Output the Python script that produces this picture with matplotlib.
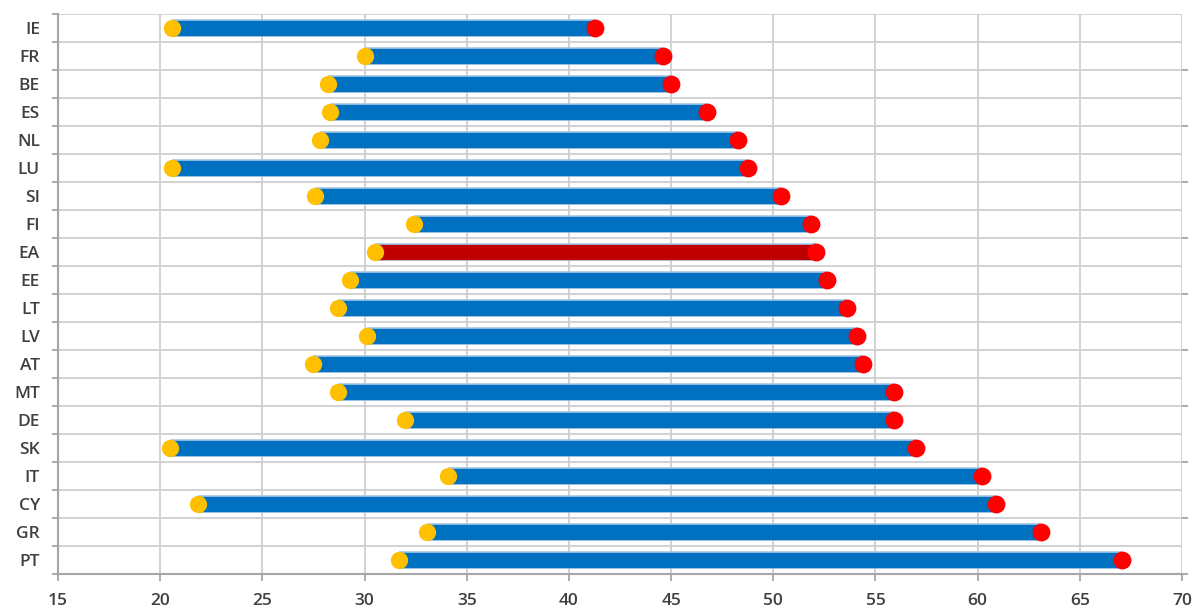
import numpy as np
import matplotlib.pyplot as plt

# Countries, top to bottom
countries = ['IE', 'FR', 'BE', 'ES', 'NL', 'LU', 'SI', 'FI', 'EA', 'EE',
             'LT', 'LV', 'AT', 'MT', 'DE', 'SK', 'IT', 'CY', 'GR', 'PT']
# Left (yellow) and right (red) end points
low = [20.6, 30.0, 28.2, 28.3, 27.8, 20.6, 27.6, 32.4, 30.5, 29.3,
       28.7, 30.1, 27.5, 28.7, 32.0, 20.5, 34.1, 21.85, 33.05, 31.7]
high = [41.3, 44.6, 45.0, 46.75, 48.25, 48.75, 50.4, 51.85, 52.1, 52.65,
        53.6, 54.1, 54.4, 55.9, 55.9, 57.0, 60.2, 60.9, 63.1, 67.05]
xticks = [15, 20, 25, 30, 35, 40, 45, 50, 55, 60, 65, 70]

plt.rcParams['font.family'] = ['Open Sans', 'DejaVu Sans']
plt.rcParams['font.weight'] = 'semibold'

fig = plt.figure(figsize=(11.97, 6.14), dpi=100)
ax = fig.add_axes([58/1197, 1 - 574/614, (1182-58)/1197, (574-14)/614])

y = np.arange(len(countries))
bar_cols = ['#C00000' if c == 'EA' else '#0070C0' for c in countries]

# bars with a faint lighter rim
ax.hlines(y, low, high, colors='#9DC3E6', lw=12.6, zorder=3, capstyle='butt')
ax.hlines(y, low, high, colors=bar_cols, lw=11.0, zorder=3, capstyle='butt')
ax.scatter(low, y, s=155, color='#FFC000', zorder=4, linewidths=0)
ax.scatter(high, y, s=165, color='#FF0000', zorder=5, linewidths=0)

ax.set_xlim(15, 70)
ax.set_ylim(len(countries) - 0.5, -0.5)
ax.set_xticks(xticks)
ax.set_yticks(y)
ax.set_yticklabels(countries)
ax.set_yticks(np.arange(-0.5, len(countries)), minor=True)

grid_col = '#CFCFCF'
ax.grid(axis='x', which='major', color=grid_col, lw=1.3, zorder=0)
ax.grid(axis='y', which='minor', color=grid_col, lw=1.3, zorder=0)
ax.set_axisbelow(True)

for s in ['top', 'right']:
    ax.spines[s].set_visible(False)
for s in ['left', 'bottom']:
    ax.spines[s].set_color('#A6A6A6')
    ax.spines[s].set_linewidth(1.5)

ax.tick_params(axis='y', which='major', length=0, pad=13, labelsize=12.5,
               labelcolor='#404040')
ax.tick_params(axis='y', which='minor', length=4, width=1.3, color='#A6A6A6',
               direction='out')
ax.tick_params(axis='x', which='major', length=5, width=1.3, color='#A6A6A6',
               direction='out', pad=9, labelsize=12.5, labelcolor='#404040')

# small ticks on the right edge at every other row boundary
ax2 = ax.twinx()
ax2.set_ylim(ax.get_ylim())
ax2.set_yticks(np.arange(1.5, len(countries), 2))
ax2.set_yticklabels([])
ax2.tick_params(axis='y', length=4, width=1.3, color='#A6A6A6', direction='out')
for s in ax2.spines.values():
    s.set_visible(False)

fig.savefig('out.png', dpi=100)
